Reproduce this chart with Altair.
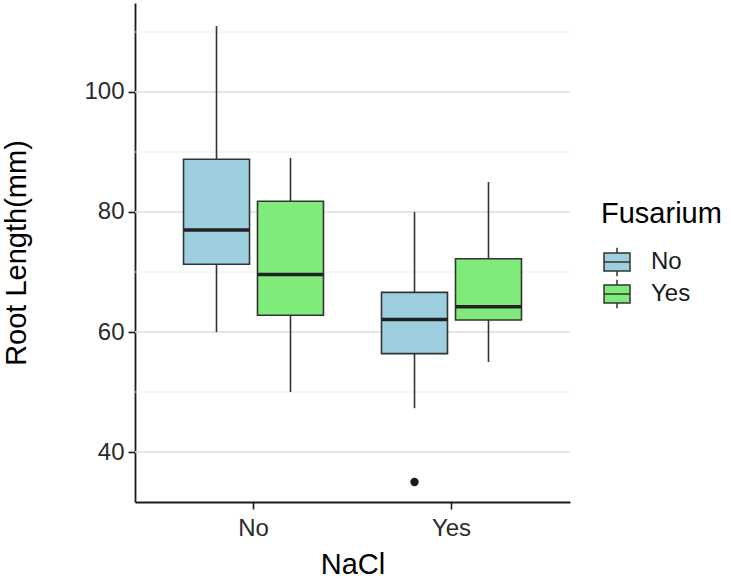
import altair as alt
import pandas as pd

# Box-plot summaries
nacl = ["No", "No", "Yes", "Yes"]
fusarium = ["No", "Yes", "No", "Yes"]
lower = [60, 50, 47.3, 55]
q1 = [71.3, 62.8, 56.4, 62.0]
median = [77.0, 69.6, 62.1, 64.2]
q3 = [88.8, 81.8, 66.6, 72.2]
upper = [111, 89, 80, 85]

out_nacl = ["Yes"]
out_fus = ["No"]
out_val = [35]

major_grid = [40, 60, 80, 100]
minor_grid = [50, 70, 90, 110]

boxes = pd.DataFrame({"NaCl": nacl, "Fusarium": fusarium, "lower": lower,
                      "q1": q1, "median": median, "q3": q3, "upper": upper})
outliers = pd.DataFrame({"NaCl": out_nacl, "Fusarium": out_fus, "value": out_val})
gmaj = pd.DataFrame({"v": major_grid})
gmin = pd.DataFrame({"v": minor_grid})

FONT = "Liberation Sans"
ydom = [31.667, 114.833]
yscale = alt.Scale(domain=ydom, nice=False, zero=False)
xscale = alt.Scale(domain=["No", "Yes"], paddingInner=0.293, paddingOuter=0.245)
xoff_scale = alt.Scale(domain=["No", "Yes"], paddingInner=0.108, paddingOuter=0)
color_scale = alt.Scale(domain=["No", "Yes"], range=["#9ecfe0", "#80ea7a"])

x_enc = alt.X("NaCl:N", scale=xscale, sort=["No", "Yes"],
              axis=alt.Axis(title="NaCl", labelAngle=0))
xo_enc = alt.XOffset("Fusarium:N", scale=xoff_scale, sort=["No", "Yes"])

yaxis = alt.Axis(title="Root Length(mm)", values=major_grid, grid=False)

grid_minor = alt.Chart(gmin).mark_rule(color="#ededed", strokeWidth=1.2).encode(
    y=alt.Y("v:Q", scale=yscale, axis=yaxis))
grid_major = alt.Chart(gmaj).mark_rule(color="#dedede", strokeWidth=1.5).encode(
    y=alt.Y("v:Q", scale=yscale))

whisk = alt.Chart(boxes).mark_rule(color="#333333", strokeWidth=1.6).encode(
    x=x_enc, xOffset=xo_enc,
    y=alt.Y("lower:Q", scale=yscale), y2="upper:Q")

legend_path = "M-1,-0.69H1V0.69H-1Z M-1,0H1 M0,-0.69V-1.1 M0,0.69V1.1"
box = alt.Chart(boxes).mark_bar(stroke="#333333", strokeWidth=1.6).encode(
    x=x_enc, xOffset=xo_enc,
    y=alt.Y("q1:Q", scale=yscale), y2="q3:Q",
    fill=alt.Fill("Fusarium:N", scale=color_scale,
                  legend=alt.Legend(title="Fusarium", orient="none",
                                    legendX=466, legendY=197,
                                    symbolType=legend_path, symbolSize=676,
                                    symbolStrokeColor="#333333",
                                    symbolStrokeWidth=1.5,
                                    labelFontSize=24, titleFontSize=29,
                                    titleFontWeight="normal",
                                    titleFont=FONT, labelFont=FONT,
                                    titleColor="#000000", labelColor="#1a1a1a",
                                    titlePadding=19, rowPadding=-9,
                                    labelOffset=20, symbolOffset=2)))

med = alt.Chart(boxes).mark_tick(color="#222222", thickness=3.5, size=66,
                                 opacity=1).encode(
    x=x_enc, xOffset=xo_enc, y=alt.Y("median:Q", scale=yscale))

pts = alt.Chart(outliers).mark_circle(color="#1a1a1a", size=70, opacity=1).encode(
    x=x_enc, xOffset=xo_enc, y=alt.Y("value:Q", scale=yscale))

chart = alt.layer(grid_minor, grid_major, whisk, box, med, pts).properties(
    width=435, height=499,
    autosize=alt.AutoSizeParams(type="none"),
    padding={"left": 135, "top": 3, "right": 161, "bottom": 78},
).configure_view(stroke=None).configure_axis(
    labelFont=FONT, titleFont=FONT,
    labelFontSize=24, titleFontSize=29, titleFontWeight="normal",
    labelColor="#2b2b2b", titleColor="#000000",
    domainColor="#1a1a1a", domainWidth=1.8,
    tickColor="#1a1a1a", tickWidth=1.6, tickSize=7, labelPadding=4,
).configure_axisY(titlePadding=52).configure_axisX(titlePadding=10, labelPadding=7)

chart.save("out.html", embed_options={"renderer": "svg", "actions": False})
